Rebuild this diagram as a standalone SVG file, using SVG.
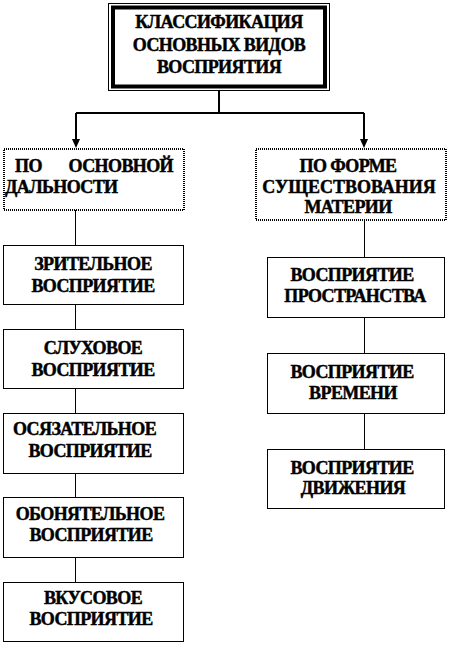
<svg xmlns="http://www.w3.org/2000/svg" width="452" height="645" viewBox="0 0 452 645" font-family="'Liberation Serif', 'Times New Roman', serif">
<defs>
<style>
text{font-family:"Liberation Serif","Times New Roman",serif;font-weight:bold;font-size:18px;letter-spacing:-0.6px;fill:#000;stroke:#000;stroke-width:0.45px}
.c{text-anchor:middle}
.box{fill:#fff;stroke:#000;stroke-width:1}
.dot{fill:#fff;stroke:#000;stroke-width:2;stroke-dasharray:1 1}
.ln{stroke:#000;stroke-width:1;fill:none}
.ln2{stroke:#000;stroke-width:2;fill:none}
</style>
</defs>
<rect width="452" height="645" fill="#fff"/>
<g id="connectors">
<path class="ln2" d="M219,91 V113 M76,113 H364"/>
<line class="ln2" x1="76" y1="113" x2="76" y2="139"/>
<path d="M72,139 L80,139 L76,148 Z" fill="#000"/>
<line class="ln2" x1="364" y1="113" x2="364" y2="139"/>
<path d="M360,139 L368,139 L364,148 Z" fill="#000"/>
<path class="ln" d="M75.5,210 V245 M75.5,304 V329 M75.5,388 V413 M75.5,473 V497 M75.5,557 V582"/>
<path class="ln" d="M364.5,220 V257 M364.5,317 V353 M364.5,413 V449"/>
</g>
<g id="root">
<rect x="108.5" y="3.5" width="221" height="87" fill="#fff" stroke="#000" stroke-width="1"/>
<rect x="113" y="7.5" width="212" height="79" fill="none" stroke="#000" stroke-width="4"/>
<text class="c" x="219" y="28">КЛАССИФИКАЦИЯ</text>
<text class="c" x="219" y="51">ОСНОВНЫХ ВИДОВ</text>
<text class="c" x="219" y="73">ВОСПРИЯТИЯ</text>
</g>
<g id="by-distance">
<rect class="dot" x="4" y="149" width="180" height="61"/>
<text x="15" y="172">ПО</text>
<text x="173" y="172" text-anchor="end">ОСНОВНОЙ</text>
<text x="5" y="193">ДАЛЬНОСТИ</text>
</g>
<g id="by-matter">
<rect class="dot" x="256" y="149" width="190" height="71"/>
<text class="c" x="348" y="172">ПО ФОРМЕ</text>
<text class="c" x="349" y="193" style="letter-spacing:0">СУЩЕСТВОВАНИЯ</text>
<text class="c" x="348" y="213">МАТЕРИИ</text>
</g>
<g id="visual">
<rect class="box" x="3.5" y="245.5" width="180" height="59"/>
<text class="c" x="93" y="270">ЗРИТЕЛЬНОЕ</text>
<text class="c" x="93" y="292">ВОСПРИЯТИЕ</text>
</g>
<g id="auditory">
<rect class="box" x="3.5" y="329.5" width="180" height="59"/>
<text class="c" x="93" y="354">СЛУХОВОЕ</text>
<text class="c" x="93" y="376">ВОСПРИЯТИЕ</text>
</g>
<g id="tactile">
<rect class="box" x="3.5" y="413.5" width="180" height="60"/>
<text x="13" y="435">ОСЯЗАТЕЛЬНОЕ</text>
<text class="c" x="90" y="457">ВОСПРИЯТИЕ</text>
</g>
<g id="olfactory">
<rect class="box" x="3.5" y="497.5" width="180" height="60"/>
<text class="c" x="90" y="520">ОБОНЯТЕЛЬНОЕ</text>
<text class="c" x="91" y="541">ВОСПРИЯТИЕ</text>
</g>
<g id="gustatory">
<rect class="box" x="3.5" y="582.5" width="180" height="59"/>
<text class="c" x="93" y="604">ВКУСОВОЕ</text>
<text class="c" x="91" y="625">ВОСПРИЯТИЕ</text>
</g>
<g id="space">
<rect class="box" x="267.5" y="257.5" width="177" height="60"/>
<text class="c" x="352" y="281">ВОСПРИЯТИЕ</text>
<text class="c" x="355" y="302">ПРОСТРАНСТВА</text>
</g>
<g id="time">
<rect class="box" x="267.5" y="353.5" width="177" height="60"/>
<text class="c" x="352" y="378">ВОСПРИЯТИЕ</text>
<text class="c" x="353" y="399">ВРЕМЕНИ</text>
</g>
<g id="motion">
<rect class="box" x="267.5" y="449.5" width="177" height="59"/>
<text class="c" x="352" y="474">ВОСПРИЯТИЕ</text>
<text class="c" x="353" y="494">ДВИЖЕНИЯ</text>
</g>
</svg>
